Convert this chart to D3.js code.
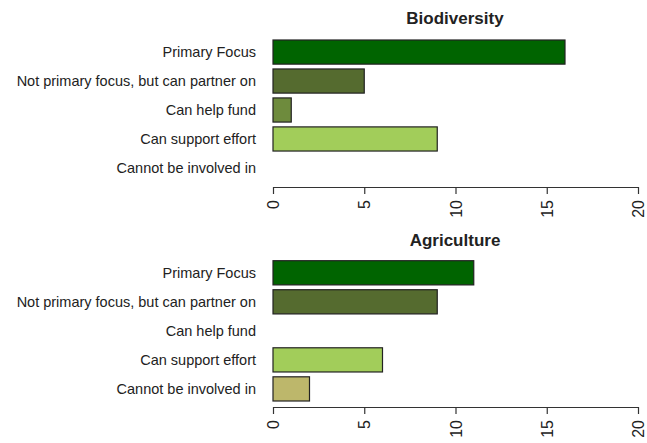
<!DOCTYPE html>
<html>
<head>
<meta charset="utf-8">
<script src="https://cdn.jsdelivr.net/npm/d3@7"></script>
<style>
  body { margin: 0; background: #fff; }
  text { font-family: "Liberation Sans", Arial, sans-serif; fill: #222; }
</style>
</head>
<body>
<svg id="chart" width="647" height="443"></svg>
<script>
var categories = ["Primary Focus", "Not primary focus, but can partner on", "Can help fund", "Can support effort", "Cannot be involved in"];
var colors = ["#006400", "#556b2f", "#6e8b3d", "#a2cd5a", "#bdb76b"];
var biodiversity = [16, 5, 1, 9, 0];
var agriculture = [11, 9, 0, 6, 2];
var tickValues = [0, 5, 10, 15, 20];

var svg = d3.select("#chart");

var x = d3.scaleLinear().domain([0, 20]).range([273, 638]);

var color = d3.scaleOrdinal().domain(categories).range(colors);

function panel(title, values, top, bottom, axisY, titleY) {
  var g = svg.append("g");

  var y = d3.scaleBand()
    .domain(categories)
    .range([top, bottom])
    .paddingInner(1 / 6)
    .paddingOuter(0);

  g.append("text")
    .attr("x", (x(0) + x(20)) / 2 - 0.5)
    .attr("y", titleY)
    .attr("text-anchor", "middle")
    .style("font-weight", "bold")
    .style("font-size", "17px")
    .text(title);

  g.selectAll("rect")
    .data(categories.map(function (c, i) { return { label: c, count: values[i] }; })
      .filter(function (d) { return d.count > 0; }))
    .enter()
    .append("rect")
    .attr("x", x(0))
    .attr("y", function (d) { return y(d.label); })
    .attr("width", function (d) { return x(d.count) - x(0); })
    .attr("height", y.bandwidth())
    .attr("fill", function (d) { return color(d.label); })
    .attr("stroke", "#222")
    .attr("stroke-width", 1.2);

  g.selectAll(".lab")
    .data(categories)
    .enter()
    .append("text")
    .attr("class", "lab")
    .attr("x", 256)
    .attr("y", function (d) { return y(d) + y.bandwidth() / 2; })
    .attr("dy", "0.35em")
    .attr("text-anchor", "end")
    .style("font-size", "14.5px")
    .text(function (d) { return d; });

  var axis = d3.axisBottom(x)
    .tickValues(tickValues)
    .tickSize(7)
    .tickSizeOuter(0)
    .tickPadding(6);

  var ax = g.append("g")
    .attr("transform", "translate(0," + axisY + ")")
    .call(axis);

  ax.selectAll("path, line").attr("stroke", "#333").attr("stroke-width", 1.2);
  ax.selectAll("text")
    .attr("transform", "rotate(-90)")
    .attr("x", -13)
    .attr("y", 0)
    .attr("dy", "0.35em")
    .attr("text-anchor", "end")
    .style("font-size", "16px")
    .style("font-family", "'Liberation Sans', Arial, sans-serif")
    .style("fill", "#222");
}

panel("Biodiversity", biodiversity, 40, 180, 187, 24);
panel("Agriculture", agriculture, 260.7, 401, 407, 246);
</script>
</body>
</html>
